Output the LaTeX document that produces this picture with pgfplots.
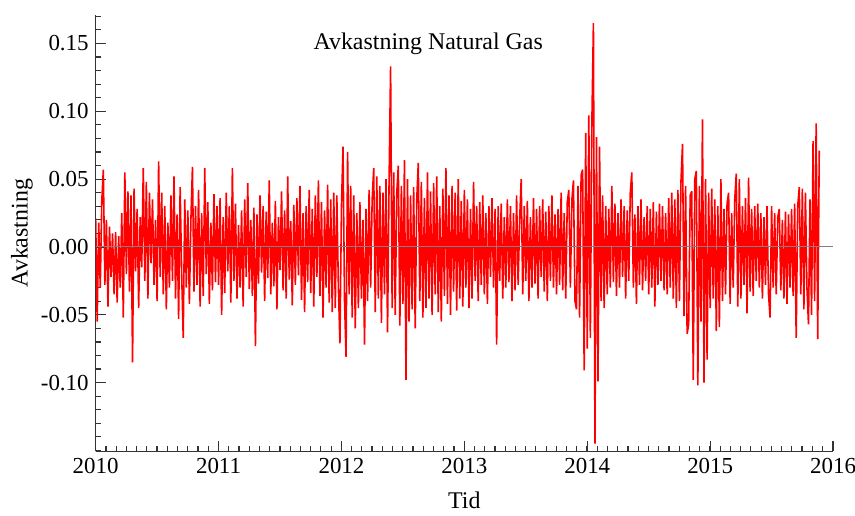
\documentclass[border=0pt]{standalone}
\usepackage{fontspec}
\setmainfont{Liberation Serif}
\usepackage{pgfplots}
\usepackage{pgfplotstable}
\pgfplotsset{compat=1.18}

% daily returns (80 values per year, from 2010.0)
\pgfplotstableread[header=false,row sep=\\]{
0.021\\ -0.055\\ 0.018\\ -0.030\\ 0.034\\ 0.057\\ -0.028\\ 0.020\\ -0.044\\ 0.015\\
-0.022\\ 0.010\\ -0.035\\ 0.011\\ -0.041\\ 0.008\\ -0.030\\ 0.025\\ -0.052\\ 0.055\\
-0.020\\ 0.041\\ -0.033\\ 0.038\\ -0.085\\ 0.043\\ -0.018\\ 0.028\\ -0.045\\ 0.022\\
-0.015\\ 0.058\\ -0.025\\ 0.048\\ -0.038\\ 0.040\\ -0.012\\ 0.035\\ -0.028\\ 0.020\\
-0.040\\ 0.063\\ -0.022\\ 0.040\\ -0.035\\ 0.030\\ -0.046\\ 0.018\\ -0.030\\ 0.038\\
-0.025\\ 0.052\\ -0.038\\ 0.024\\ -0.053\\ 0.044\\ -0.020\\ -0.067\\ 0.035\\ -0.030\\
0.027\\ -0.042\\ 0.020\\ 0.059\\ -0.033\\ 0.030\\ -0.028\\ 0.042\\ -0.044\\ 0.025\\
-0.036\\ 0.058\\ -0.020\\ 0.033\\ -0.042\\ 0.018\\ -0.032\\ 0.039\\ -0.026\\ 0.030\\
-0.028\\ 0.036\\ -0.050\\ 0.022\\ -0.034\\ 0.040\\ -0.018\\ 0.030\\ -0.041\\ 0.058\\
-0.025\\ 0.032\\ -0.038\\ 0.016\\ -0.030\\ 0.027\\ -0.044\\ 0.035\\ -0.022\\ 0.047\\
-0.031\\ 0.020\\ -0.036\\ 0.029\\ -0.073\\ 0.024\\ -0.027\\ 0.038\\ -0.019\\ 0.030\\
-0.040\\ 0.026\\ -0.023\\ 0.049\\ -0.035\\ 0.018\\ -0.029\\ 0.034\\ -0.046\\ 0.022\\
-0.017\\ 0.041\\ -0.032\\ 0.027\\ -0.038\\ 0.052\\ -0.024\\ 0.019\\ -0.043\\ 0.031\\
-0.028\\ 0.036\\ -0.021\\ 0.045\\ -0.039\\ 0.025\\ -0.048\\ 0.030\\ -0.026\\ 0.042\\
-0.034\\ 0.028\\ -0.044\\ 0.038\\ -0.022\\ 0.049\\ -0.036\\ 0.033\\ -0.052\\ 0.027\\
-0.030\\ 0.046\\ -0.041\\ 0.035\\ -0.048\\ 0.040\\ -0.045\\ 0.038\\ -0.030\\ -0.071\\
0.030\\ 0.074\\ -0.040\\ -0.081\\ 0.070\\ -0.035\\ 0.045\\ -0.052\\ 0.038\\ -0.060\\
0.025\\ -0.045\\ 0.033\\ -0.038\\ 0.020\\ -0.072\\ 0.028\\ -0.040\\ 0.042\\ -0.030\\
0.035\\ 0.058\\ -0.048\\ 0.052\\ -0.038\\ 0.045\\ -0.056\\ 0.040\\ -0.035\\ 0.050\\
-0.063\\ 0.048\\ 0.133\\ -0.045\\ 0.055\\ -0.050\\ 0.040\\ 0.060\\ -0.058\\ 0.045\\
-0.042\\ 0.064\\ -0.098\\ 0.050\\ -0.055\\ 0.038\\ -0.046\\ 0.044\\ -0.060\\ 0.035\\
0.062\\ -0.040\\ 0.048\\ -0.052\\ 0.036\\ -0.045\\ 0.055\\ -0.038\\ 0.041\\ -0.050\\
0.047\\ -0.035\\ 0.052\\ -0.048\\ 0.030\\ -0.055\\ 0.043\\ -0.036\\ 0.058\\ -0.042\\
0.038\\ -0.050\\ 0.045\\ -0.033\\ 0.040\\ -0.047\\ 0.050\\ -0.038\\ 0.034\\ -0.044\\
0.042\\ -0.030\\ 0.035\\ -0.045\\ 0.028\\ -0.038\\ 0.048\\ -0.025\\ 0.030\\ -0.040\\
0.033\\ -0.028\\ 0.038\\ -0.035\\ 0.025\\ -0.042\\ 0.030\\ -0.022\\ 0.036\\ -0.030\\
0.028\\ -0.072\\ 0.030\\ -0.025\\ 0.032\\ -0.038\\ 0.022\\ -0.030\\ 0.035\\ -0.026\\
0.030\\ -0.040\\ 0.025\\ -0.032\\ 0.038\\ -0.028\\ 0.020\\ 0.050\\ -0.035\\ 0.030\\
-0.025\\ 0.034\\ -0.040\\ 0.022\\ -0.030\\ 0.036\\ -0.027\\ 0.028\\ -0.038\\ 0.030\\
-0.022\\ 0.035\\ -0.033\\ 0.026\\ -0.040\\ 0.030\\ -0.025\\ 0.038\\ -0.030\\ 0.024\\
-0.035\\ 0.028\\ -0.028\\ 0.040\\ -0.032\\ 0.025\\ -0.038\\ 0.033\\ 0.042\\ -0.030\\
0.035\\ 0.049\\ -0.040\\ -0.046\\ 0.045\\ -0.052\\ 0.053\\ 0.057\\ -0.091\\ 0.084\\
-0.075\\ 0.097\\ -0.067\\ 0.092\\ 0.165\\ -0.145\\ 0.081\\ -0.099\\ 0.074\\ -0.040\\
0.038\\ -0.045\\ 0.030\\ -0.035\\ 0.028\\ -0.030\\ 0.045\\ -0.026\\ 0.032\\ -0.036\\
0.025\\ -0.030\\ 0.035\\ -0.022\\ 0.030\\ -0.038\\ 0.027\\ -0.025\\ 0.040\\ 0.055\\
-0.030\\ 0.024\\ -0.042\\ 0.030\\ -0.028\\ 0.035\\ -0.032\\ 0.022\\ -0.025\\ 0.030\\
-0.035\\ 0.028\\ -0.030\\ 0.033\\ -0.044\\ 0.026\\ -0.028\\ 0.032\\ -0.025\\ 0.030\\
-0.032\\ 0.025\\ -0.035\\ 0.036\\ -0.030\\ 0.040\\ -0.038\\ 0.035\\ -0.045\\ 0.042\\
-0.040\\ 0.048\\ 0.076\\ -0.051\\ 0.045\\ -0.064\\ -0.057\\ 0.038\\ 0.041\\ -0.098\\
0.050\\ 0.056\\ -0.102\\ 0.045\\ -0.055\\ 0.094\\ -0.100\\ 0.050\\ -0.083\\ 0.040\\
-0.045\\ 0.043\\ -0.038\\ 0.035\\ -0.062\\ 0.030\\ -0.059\\ 0.050\\ -0.040\\ 0.028\\
-0.035\\ 0.032\\ 0.040\\ -0.042\\ 0.025\\ -0.030\\ 0.035\\ 0.054\\ -0.044\\ 0.050\\
-0.038\\ 0.030\\ -0.028\\ 0.036\\ -0.049\\ 0.051\\ -0.033\\ 0.028\\ -0.036\\ 0.030\\
-0.025\\ 0.032\\ -0.030\\ 0.025\\ -0.038\\ 0.022\\ -0.028\\ 0.030\\ -0.035\\ -0.052\\
0.030\\ -0.030\\ 0.025\\ -0.035\\ 0.022\\ 0.028\\ -0.032\\ 0.020\\ -0.038\\ 0.026\\
-0.042\\ 0.024\\ -0.030\\ 0.028\\ -0.036\\ 0.032\\ -0.067\\ 0.030\\ 0.044\\ -0.035\\
0.043\\ -0.046\\ 0.040\\ -0.030\\ -0.057\\ 0.035\\ -0.050\\ 0.078\\ -0.040\\ 0.091\\
-0.068\\ 0.071\\
}\gasdata

\begin{document}
\begin{tikzpicture}
\begin{axis}[
    scale only axis,
    width=370pt, height=219pt,
    xmin=2010, xmax=2016,
    ymin=-0.1507, ymax=0.171,
    axis lines=left,
    axis line style={-, black!80, line width=0.7pt},
    tick align=inside,
    tick style={black!80, line width=0.6pt},
    major tick length=5pt,
    minor tick length=2.5pt,
    xtick={2010,2011,2012,2013,2014,2015,2016},
    xticklabels={2010,2011,2012,2013,2014,2015,2016},
    minor xtick={2010.0833,2010.1667,...,2016},
    ytick={-0.10,-0.05,0,0.05,0.10,0.15},
    yticklabels={-0.10,-0.05,0.00,0.05,0.10,0.15},
    minor ytick={-0.15,-0.14,...,0.171},
    ticklabel style={font=\fontsize{11.5}{13}\selectfont},
    label style={font=\fontsize{12}{14}\selectfont},
    xlabel={Tid},
    ylabel={Avkastning},
    xlabel style={at={(axis description cs:0.5,-0.113)}, anchor=center},
    ylabel style={at={(axis description cs:-0.1,0.5)}, anchor=center},
    clip=true,
]
\addplot[red, line width=0.8pt, line join=bevel] table[x expr=2010+\coordindex/80, y index=0] {\gasdata};
\addplot[gray, line width=0.5pt] coordinates {(2010,0) (2016,0)};
\node[font=\fontsize{12}{14}\selectfont, anchor=center] at (axis description cs:0.451,0.934) {Avkastning Natural Gas};
\coordinate (ll) at (rel axis cs:0,0);
\coordinate (ur) at (rel axis cs:1,1);
\end{axis}
\pgfresetboundingbox
\path[use as bounding box] ([shift={(-48pt,-32pt)}]ll) rectangle ([shift={(11pt,7.5pt)}]ur);
\end{tikzpicture}
\end{document}
